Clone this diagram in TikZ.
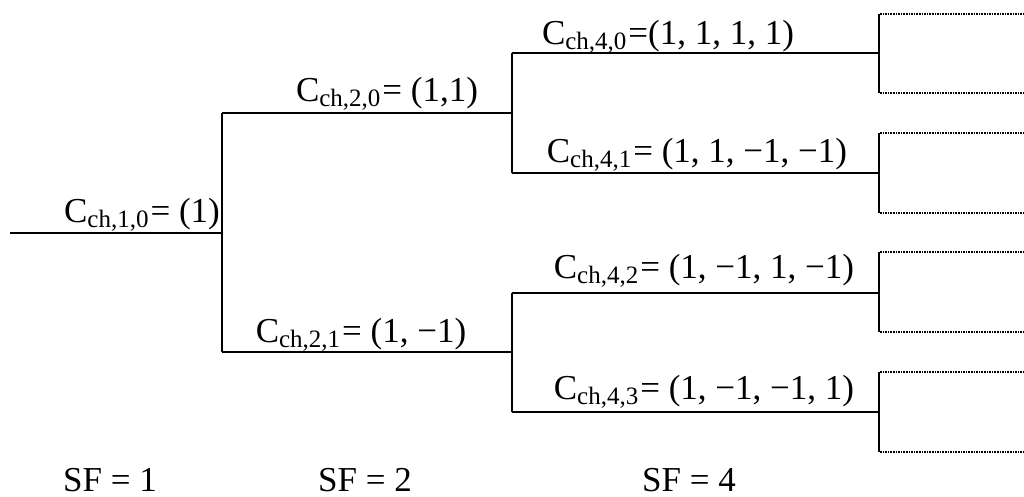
\documentclass[tikz,border=0pt]{standalone}
\usepackage{fontspec}
\setmainfont{Liberation Serif}
\newcommand{\cch}[1]{C{\fontsize{25}{25}\selectfont\raisebox{-5pt}{ch,#1}}\hspace{2pt}}
\begin{document}
\begin{tikzpicture}[x=1pt,y=-1pt,
  tree/.style={line width=2pt},
  boxedge/.style={line width=2.8pt},
  dotline/.style={line width=1.6pt,dash pattern=on 1.6pt off 1pt},
  lbl/.style={anchor=base,inner sep=0pt,font=\fontsize{35}{40}\selectfont}]
\useasboundingbox (0,0) rectangle (1024,497);
% junctions
\coordinate (start) at (10,233);
\coordinate (j1) at (222,233);
\coordinate (j1t) at (222,113);
\coordinate (j1b) at (222,352);
\coordinate (j2t) at (512,113);
\coordinate (j2b) at (512,352);
\coordinate (j2tt) at (512,53);
\coordinate (j2tb) at (512,173);
\coordinate (j2bt) at (512,293);
\coordinate (j2bb) at (512,412);
\coordinate (b1) at (879,53);
\coordinate (b2) at (879,173);
\coordinate (b3) at (879,293);
\coordinate (b4) at (879,412);
% tree
\draw[tree] (start) -- (j1);
\draw[tree] (j1t) -- (j1b);
\draw[tree] (j1t) -- (j2t);
\draw[tree] (j1b) -- (j2b);
\draw[tree] (j2tt) -- (j2tb);
\draw[tree] (j2bt) -- (j2bb);
\draw[tree] (j2tt) -- (b1);
\draw[tree] (j2tb) -- (b2);
\draw[tree] (j2bt) -- (b3);
\draw[tree] (j2bb) -- (b4);
% boxes
\foreach \t/\b in {14/93,133/213,252/332,372/452}{
  \draw[boxedge] (879,\t) -- (879,\b);
  \draw[dotline] (880,\t) -- (1026,\t);
  \draw[dotline] (880,\b) -- (1026,\b);
}
% labels
\node[lbl] (l10) at (142,222) {\cch{1,0}= (1)};
\node[lbl] (l20) at (387,102) {\cch{2,0}= (1,1)};
\node[lbl] (l21) at (361,342) {\cch{2,1}= (1, −1)};
\node[lbl] (l40) at (668,45) {\cch{4,0}=(1, 1, 1, 1)};
\node[lbl] (l41) at (697,163) {\cch{4,1}= (1, 1, −1, −1)};
\node[lbl] (l42) at (704,278) {\cch{4,2}= (1, −1, 1, −1)};
\node[lbl] (l43) at (704,399) {\cch{4,3}= (1, −1, −1, 1)};
\node[lbl] (sf1) at (110,491) {SF = 1};
\node[lbl] (sf2) at (365,491) {SF = 2};
\node[lbl] (sf4) at (689,491) {SF = 4};
\end{tikzpicture}
\end{document}
